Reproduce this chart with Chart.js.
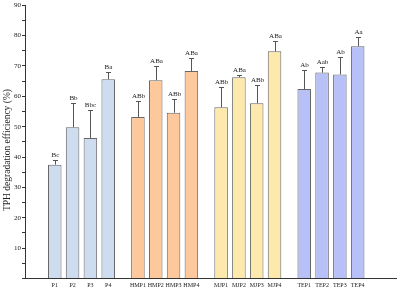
<!DOCTYPE html>
<html>
<head>
<meta charset="utf-8">
<script src="https://cdn.jsdelivr.net/npm/chart.js@4.4.0/dist/chart.umd.min.js"></script>
<style>
  body { margin: 0; background: #fff; }
  #wrap { width: 400px; height: 290px; }
</style>
</head>
<body>
<div id="wrap"><canvas id="tph" width="400" height="290"></canvas></div>
<script>
var categories = ["P1", "P2", "P3", "P4", "HMP1", "HMP2", "HMP3", "HMP4",
                  "MJP1", "MJP2", "MJP3", "MJP4", "TEP1", "TEP2", "TEP3", "TEP4"];
var efficiency = [37.5, 49.8, 46.3, 65.6, 53.2, 65.3, 54.6, 68.3,
                  56.4, 66.3, 57.7, 74.8, 62.4, 67.8, 67.2, 76.5];
var errors = [1.5, 8.0, 9.3, 2.3, 5.4, 4.7, 4.6, 4.3,
              6.5, 0.6, 6.0, 3.5, 6.2, 1.8, 5.9, 3.1];
var letters = ["Bc", "Bb", "Bbc", "Ba", "ABb", "ABa", "ABb", "ABa",
               "ABb", "ABa", "ABb", "ABa", "Ab", "Aab", "Ab", "Aa"];
var groupColors = ["#cddcef", "#fcc89c", "#fde9ac", "#b8c1f7"];

var perGroup = 4;
var groupStride = 4.667; // 4 bars + wider gap between groups
var xPos = categories.map(function (c, i) {
    return Math.floor(i / perGroup) * groupStride + (i % perGroup);
});
var serif = "'Liberation Serif', 'DejaVu Serif', serif";

var errorBars = {
    id: 'errorBars',
    afterDatasetsDraw: function (chart) {
        var ctx = chart.ctx, x = chart.scales.x, y = chart.scales.y;
        ctx.save();
        ctx.strokeStyle = '#555';
        ctx.lineWidth = 1;
        ctx.fillStyle = '#222';
        ctx.font = '7px ' + serif;
        ctx.textAlign = 'center';
        ctx.textBaseline = 'bottom';
        efficiency.forEach(function (v, i) {
            var px = Math.round(x.getPixelForValue(xPos[i])) + 0.5;
            var base = y.getPixelForValue(v);
            var top = Math.round(y.getPixelForValue(v + errors[i])) + 0.5;
            ctx.beginPath();
            ctx.moveTo(px, base);
            ctx.lineTo(px, top);
            ctx.moveTo(px - 2.5, top);
            ctx.lineTo(px + 2.5, top);
            ctx.stroke();
            ctx.fillText(letters[i], px, top - 1.5);
        });
        // y axis title
        ctx.save();
        ctx.translate(7, 150);
        ctx.rotate(-Math.PI / 2);
        ctx.font = '9.5px ' + serif;
        ctx.textBaseline = 'middle';
        ctx.fillText('TPH degradation efficiency (%)', 0, 0);
        ctx.restore();
        ctx.restore();
    }
};

var ctx = document.getElementById("tph").getContext('2d');

var tphChart = new Chart(ctx, {
    type: 'bar',
    data: {
        datasets: [{
            data: efficiency.map(function (v, i) { return { x: xPos[i], y: v }; }),
            backgroundColor: categories.map(function (c, i) { return groupColors[Math.floor(i / perGroup)]; }),
            borderColor: '#666',
            borderWidth: 1,
            barPercentage: 0.76,
            categoryPercentage: 1
        }]
    },
    options: {
        responsive: false,
        animation: false,
        layout: { padding: { top: 4.5, right: 3.3, left: 0, bottom: 0 } },
        plugins: {
            legend: { display: false },
            tooltip: { enabled: false }
        },
        scales: {
            x: {
                type: 'linear',
                offset: false,
                min: -1.67,
                max: 19.19,
                grid: { display: false, drawTicks: false },
                border: { color: '#333', width: 1 },
                afterBuildTicks: function (scale) {
                    scale.ticks = xPos.map(function (v) { return { value: v }; });
                },
                afterFit: function (scale) { scale.height = 11.5; },
                ticks: {
                    autoSkip: false,
                    maxRotation: 0,
                    padding: 3,
                    color: '#222',
                    font: { family: serif, size: 6 },
                    callback: function (v, i) { return categories[i]; }
                }
            },
            y: {
                min: 0,
                max: 90,
                grid: { drawOnChartArea: false, tickLength: 3, color: '#333' },
                border: { color: '#333', width: 1 },
                afterFit: function (scale) { scale.width = 25; },
                ticks: {
                    stepSize: 5,
                    padding: 1,
                    color: '#222',
                    font: { family: serif, size: 7 },
                    callback: function (v) { return (v % 10 === 0 && v > 0) ? v : ''; }
                }
            }
        }
    },
    plugins: [errorBars]
});
</script>
</body>
</html>
